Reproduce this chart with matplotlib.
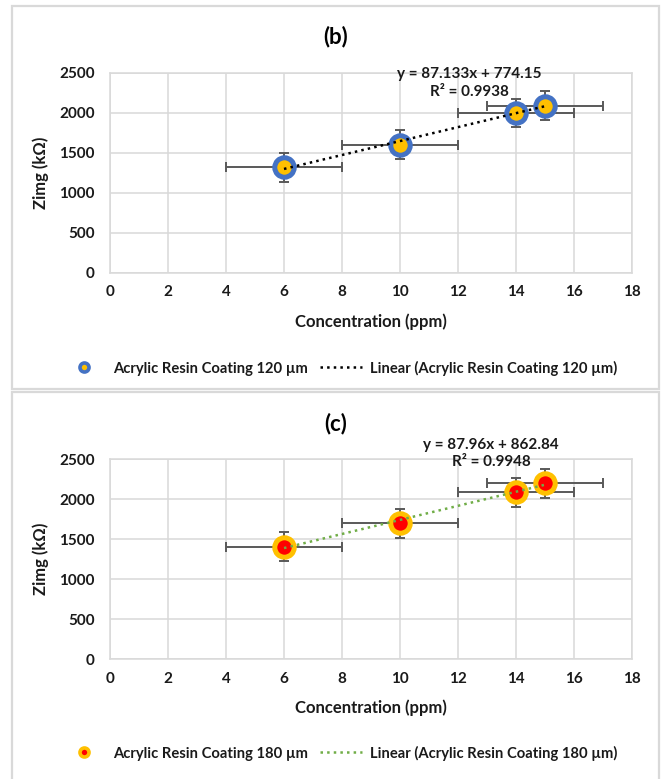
import matplotlib
matplotlib.use('Agg')
import matplotlib.pyplot as plt
from matplotlib.lines import Line2D
from matplotlib.patches import Rectangle
import numpy as np

plt.rcParams['font.family'] = ['Lato', 'DejaVu Sans']
plt.rcParams['font.weight'] = 'bold'
plt.rcParams['axes.labelweight'] = 'bold'

# data
conc = [6, 10, 14, 15]
conc_err = [2, 2, 2, 2]

zimg_120 = [1320, 1600, 2000, 2090]
zimg_120_err = [180, 180, 175, 185]
fit_120 = (87.133, 774.15, 0.9938)

zimg_180 = [1410, 1700, 2090, 2200]
zimg_180_err = [185, 185, 180, 180]
fit_180 = (87.96, 862.84, 0.9948)

xticks = np.arange(0, 20, 2)
yticks = np.arange(0, 3000, 500)

W, H = 662, 779
fig = plt.figure(figsize=(W / 100, H / 100), dpi=100)

grid_c = '#D9D9D9'
err_c = '#595959'
txt_c = '#1a1a1a'


def frame(y0, y1):
    fig.patches.append(Rectangle((12 / W, 1 - y1 / H), 647 / W, (y1 - y0) / H,
                                 transform=fig.transFigure, fill=False,
                                 edgecolor=grid_c, lw=1.6))


def panel(top, y, yerr, fit, title, edge, face, line_c, label, eq_xy, leg_y):
    ax = fig.add_axes([110 / W, 1 - (top + 200) / H, 522 / W, 200 / H])
    ax.set_xlim(0, 18)
    ax.set_ylim(0, 2500)
    ax.set_xticks(xticks)
    ax.set_yticks(yticks)
    ax.grid(True, color=grid_c, lw=1.1)
    ax.set_axisbelow(True)
    for s in ax.spines.values():
        s.set_color(grid_c)
        s.set_linewidth(1.1)
    ax.tick_params(length=0, labelsize=11, colors=txt_c)
    ax.tick_params(axis='y', pad=11)
    ax.tick_params(axis='x', pad=9)
    for t in ax.get_xticklabels() + ax.get_yticklabels():
        t.set_fontweight('bold')

    ax.errorbar(conc, y, xerr=conc_err, yerr=yerr, fmt='none', ecolor=err_c,
                elinewidth=1.4, capsize=3.5, capthick=1.4, zorder=2)
    ax.plot(conc, y, 'o', ms=14, mfc=face, mec=edge, mew=3.6, zorder=3)

    m, b, r2 = fit
    xs = np.array([conc[0], conc[-1]])
    ax.plot(xs, m * xs + b, ':', color=line_c, lw=1.8, zorder=4)

    ax.text(eq_xy[0], eq_xy[1], 'y = %gx + %g\nR² = %g' % (m, b, r2),
            ha='center', va='center', fontsize=11, fontweight='bold',
            linespacing=1.35, color=txt_c, clip_on=False, zorder=5)

    ax.set_xlabel('Concentration (ppm)', fontsize=12, labelpad=10, color=txt_c)
    ax.set_ylabel('Zimg (kΩ)', fontsize=12, labelpad=7, color=txt_c)
    fig.text(336 / W, 1 - (top - 36) / H, title, ha='center', va='center',
             fontsize=16, fontweight='bold', color='black')

    h1 = Line2D([], [], ls='none', marker='o', ms=6.5, mfc=face, mec=edge, mew=2.6)
    h2 = Line2D([], [], ls=':', color=line_c, lw=1.8)
    fig.legend([h1, h2], [label, 'Linear (%s)' % label], loc='center',
               bbox_to_anchor=(340 / W, 1 - leg_y / H), ncol=2, frameon=False,
               prop={'size': 10.6, 'weight': 'bold'}, handlelength=2.9,
               handletextpad=0.5, columnspacing=0.8, labelcolor=txt_c)
    return ax


frame(6, 389)
frame(392, 782)

panel(72.7, zimg_120, zimg_120_err, fit_120, '(b)', '#4472C4', '#FFC000', 'black',
      'Acrylic Resin Coating 120 µm', (12.4, 2373), 368)
panel(459.3, zimg_180, zimg_180_err, fit_180, '(c)', '#FFC000', '#FF0000', '#70AD47',
      'Acrylic Resin Coating 180 µm', (13.14, 2572), 753)

fig.savefig('out.png', dpi=100)
